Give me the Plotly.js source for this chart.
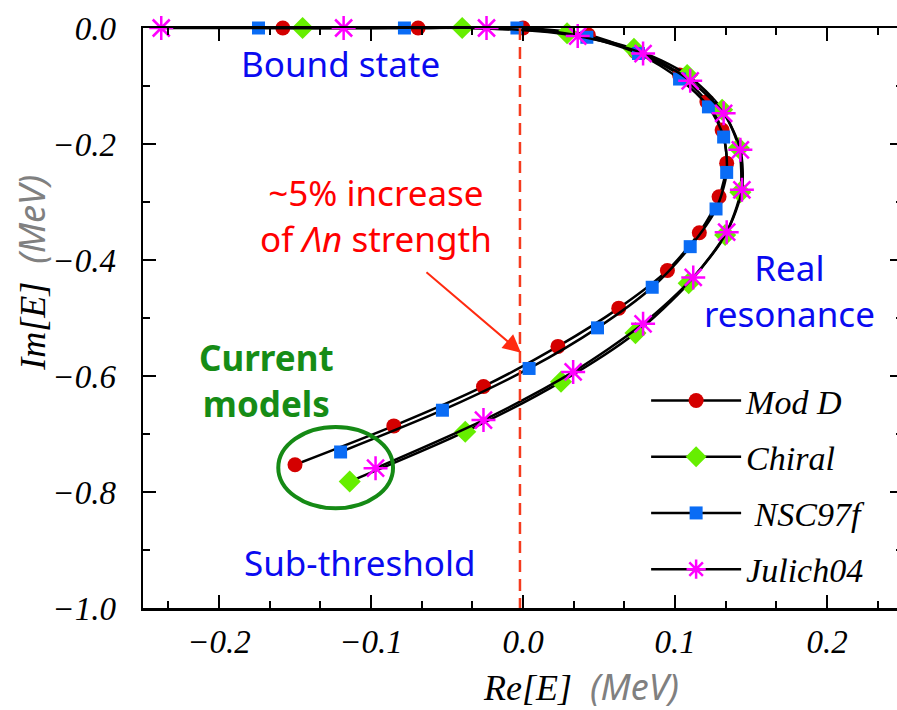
<!DOCTYPE html>
<html><head><meta charset="utf-8">
<script src="https://cdn.plot.ly/plotly-3.0.1.min.js"></script>
<style>html,body{margin:0;padding:0;overflow:hidden;background:#fff;width:897px;height:710px}#chart{width:903px;height:710px}</style>
</head><body><div id="chart"></div><script>
// Series data (Re[E], Im[E] in MeV)
const modDRe = [-0.158, -0.069, 0.000, 0.043, 0.074, 0.103, 0.121, 0.131, 0.134, 0.129, 0.116, 0.095, 0.063, 0.023, -0.026, -0.085, -0.150];
const modDIm = [0, 0, 0, -0.012, -0.041, -0.081, -0.127, -0.176, -0.233, -0.291, -0.353, -0.418, -0.483, -0.549, -0.618, -0.686, -0.753];
const chiralRe = [-0.145, -0.040, 0.029, 0.073, 0.108, 0.131, 0.142, 0.143, 0.133, 0.109, 0.074, 0.025, -0.038, -0.114];
const chiralIm = [0, 0, -0.009, -0.036, -0.081, -0.141, -0.207, -0.283, -0.357, -0.440, -0.526, -0.610, -0.696, -0.782];
const nscRe = [-0.174, -0.078, -0.004, 0.042, 0.076, 0.103, 0.122, 0.132, 0.134, 0.127, 0.110, 0.085, 0.049, 0.004, -0.053, -0.120];
const nscIm = [0, 0, 0, -0.016, -0.044, -0.088, -0.136, -0.188, -0.249, -0.312, -0.377, -0.447, -0.517, -0.587, -0.659, -0.731];
const julichRe = [-0.238, -0.118, -0.024, 0.036, 0.079, 0.110, 0.132, 0.143, 0.144, 0.134, 0.112, 0.079, 0.033, -0.026, -0.097];
const julichIm = [0, 0, 0, -0.014, -0.044, -0.091, -0.147, -0.210, -0.279, -0.352, -0.430, -0.510, -0.593, -0.676, -0.759];
const seriesNames = ['Mod D', 'Chiral', ' NSC97f', 'Julich04'];
const xTickVals = [-0.2, -0.1, 0.0, 0.1, 0.2];
const yTickVals = [0.0, -0.2, -0.4, -0.6, -0.8, -1.0];

const serif = 'Liberation Serif, Times New Roman, serif';
const sans = 'Noto Sans, Open Sans, sans-serif';
const lineStyle = {color: '#000', width: 2.5, shape: 'spline', smoothing: 0.8};

const traces = [
  {x: modDRe, y: modDIm, name: seriesNames[0], legendgroup: 'a', mode: 'lines+markers', line: lineStyle, cliponaxis: false,
   marker: {symbol: 'circle', size: 15, color: '#d40000'}},
  {x: chiralRe, y: chiralIm, name: seriesNames[1], legendgroup: 'b', mode: 'lines+markers', line: lineStyle, cliponaxis: false,
   marker: {symbol: 'diamond', size: 17, color: '#66ee00'}},
  {x: nscRe, y: nscIm, name: seriesNames[2], legendgroup: 'c', mode: 'lines+markers', line: lineStyle, cliponaxis: false,
   marker: {symbol: 'square', size: 13, color: '#0a6cf5'}},
  {x: julichRe, y: julichIm, name: seriesNames[3], legendgroup: 'd', mode: 'lines+markers', line: lineStyle, cliponaxis: false,
   marker: {symbol: 'asterisk-open', size: 20, color: '#ff00ff', line: {color: '#ff00ff', width: 2.5}}}
];

const axisCommon = {
  showline: true, linecolor: '#000', linewidth: 2.5, mirror: 'ticks',
  ticks: 'inside', ticklen: 13, tickwidth: 2.5, tickcolor: '#000',
  showgrid: false, zeroline: false,
  tickfont: {family: serif, size: 33, style: 'italic', color: '#000'}
};

const layout = {
  width: 903, height: 710,
  margin: {l: 143, r: 0, t: 28, b: 102},
  paper_bgcolor: '#fff', plot_bgcolor: '#fff',
  showlegend: true,
  xaxis: Object.assign({}, axisCommon, {
    range: [-0.25, 0.25], tickvals: xTickVals, tickformat: '.1f', ticklabelstandoff: 3,
    minor: {tick0: 0, dtick: 0.1/3, ticks: 'inside', ticklen: 7, tickwidth: 2, tickcolor: '#000'}
  }),
  yaxis: Object.assign({}, axisCommon, {
    range: [-1.0, 0.0], tickvals: yTickVals, tickformat: '.1f', ticklabelstandoff: 18,
    minor: {tick0: 0, dtick: 0.1, ticks: 'inside', ticklen: 7, tickwidth: 2, tickcolor: '#000'}
  }),
  legend: {
    x: 0.662, y: 0.407, xanchor: 'left', yanchor: 'top',
    bgcolor: 'rgba(0,0,0,0)', traceorder: 'grouped', tracegroupgap: 9,
    font: {family: serif, size: 34, style: 'italic', color: '#000'},
    itemwidth: 90
  },
  shapes: [
    {type: 'line', xref: 'x', yref: 'y', x0: -0.002, x1: -0.002, y0: 0, y1: -1,
     line: {color: '#f53b1e', width: 2.5, dash: '12px,7px'}},
    {type: 'circle', xref: 'x', yref: 'y', x0: -0.161, x1: -0.0855, y0: -0.828, y1: -0.688,
     line: {color: '#158a15', width: 4}}
  ],
  annotations: [
    {xref: 'x', yref: 'y', x: -0.120, y: -0.062, text: 'Bound state', showarrow: false,
     font: {family: sans, size: 35, color: '#0a0af0'}},
    {xref: 'x', yref: 'y', x: -0.097, y: -0.323, text: '~5% increase<br>of <i>Λn</i> strength', showarrow: false,
     font: {family: sans, size: 35, color: '#ff0000'}},
    {xref: 'x', yref: 'y', x: -0.169, y: -0.607, text: '<b>Current<br>models</b>', showarrow: false,
     font: {family: sans, size: 35, color: '#168c16'}},
    {xref: 'x', yref: 'y', x: 0.175, y: -0.452, text: 'Real<br>resonance', showarrow: false,
     font: {family: sans, size: 35, color: '#0a0af0'}},
    {xref: 'x', yref: 'y', x: -0.107, y: -0.921, text: 'Sub-threshold', showarrow: false,
     font: {family: sans, size: 35, color: '#0a0af0'}},
    {xref: 'x', yref: 'y', axref: 'x', ayref: 'y', x: -0.0013, y: -0.560, ax: -0.0645, ay: -0.419,
     text: '', showarrow: true, arrowhead: 2, arrowsize: 1.8, arrowwidth: 2, arrowcolor: '#ff2a10', standoff: 0},
    {xref: 'paper', yref: 'paper', x: 0.576, y: -0.136, xanchor: 'center', yanchor: 'middle', showarrow: false,
     text: "<i>Re[E]</i>  <span style='font-family:Noto Sans;font-style:italic;color:#808080'>(MeV)</span>",
     font: {family: serif, size: 36, color: '#000'}},
    {xref: 'paper', yref: 'paper', x: -0.146, y: 0.578, xanchor: 'center', yanchor: 'middle', showarrow: false, textangle: -90,
     text: "<i>Im[E]</i>  <span style='font-family:Noto Sans;font-style:italic;color:#808080'>(MeV)</span>",
     font: {family: serif, size: 36, color: '#000'}}
  ]
};

Plotly.newPlot('chart', traces, layout, {displayModeBar: false, staticPlot: true});
</script></body></html>
